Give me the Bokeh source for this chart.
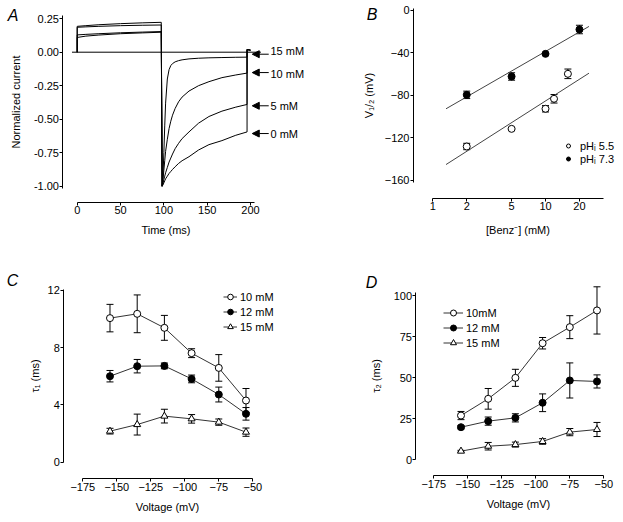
from bokeh.plotting import figure
from bokeh.layouts import gridplot
from bokeh.models import (ColumnDataSource, Whisker, TeeHead, FixedTicker, PrintfTickFormatter,
                          Legend, LegendItem, Label, Arrow, NormalHead)
from bokeh.embed import file_html
from bokeh.resources import INLINE
from bokeh.core.properties import value

FONT = "Liberation Sans"

# ---------------- Panel A data ----------------
a_t_pre = [0, 10, 25, 50, 75, 97]
a_pre_15 = [0.193, 0.198, 0.205, 0.213, 0.219, 0.223]
a_pre_10 = [0.186, 0.189, 0.193, 0.198, 0.201, 0.203]
a_pre_5 = [0.129, 0.133, 0.138, 0.145, 0.150, 0.154]
a_pre_0 = [0.110, 0.120, 0.128, 0.138, 0.144, 0.149]
a_t_tail = [98, 99, 100, 101, 102, 104, 106, 108, 110, 113, 117, 121, 129, 140, 152, 167, 183, 196]
a_tail_15 = [-1.0, -0.92, -0.75, -0.55, -0.38, -0.20, -0.13, -0.10, -0.085, -0.072, -0.063, -0.057,
             -0.050, -0.045, -0.042, -0.040, -0.038, -0.037]
a_tail_10 = [-1.0, -0.95, -0.88, -0.81, -0.74, -0.65, -0.57, -0.515, -0.47, -0.42, -0.37, -0.335,
             -0.29, -0.25, -0.22, -0.19, -0.17, -0.156]
a_tail_5 = [-1.0, -0.98, -0.95, -0.925, -0.90, -0.86, -0.82, -0.79, -0.76, -0.72, -0.68, -0.645,
            -0.595, -0.53, -0.48, -0.44, -0.41, -0.39]
a_tail_0 = [-1.0, -0.99, -0.975, -0.96, -0.945, -0.925, -0.905, -0.89, -0.875, -0.855, -0.83, -0.81,
            -0.78, -0.73, -0.69, -0.66, -0.62, -0.595]
a_t_end = [196, 200]
a_end = [0.02, 0.015]
a_base_t = [-6, 212]
a_base_y = [0.0, 0.0]
a_labels = ["15 mM", "10 mM", "5 mM", "0 mM"]
a_label_t = [223, 223, 223, 223]
a_label_y = [0.012, -0.166, -0.405, -0.614]
a_arrow_t0 = [221, 221, 221, 221]
a_arrow_t1 = [202, 202, 202, 202]
a_arrow_y = [-0.015, -0.152, -0.40, -0.607]
a_yticks = [-1.0, -0.75, -0.5, -0.25, 0.0, 0.25]
a_xticks = [0, 50, 100, 150, 200]

# ---------------- Panel B data ----------------
b_conc_73 = [2, 5, 10, 20]
b_v_73 = [-79.4, -62.1, -40.8, -17.9]
b_err_73 = [3.5, 3.5, 1.0, 4.0]
b_conc_55 = [2, 5, 10, 11.9, 15.8]
b_v_55 = [-128.0, -111.4, -92.5, -83.1, -59.6]
b_err_55 = [3.0, 0.8, 3.0, 4.0, 4.5]
b_fit_x = [1.31, 24.3]
b_fit_73 = [-92.5, -15.0]
b_fit_55 = [-145.0, -59.0]
b_xticks = [1, 2, 5, 10, 20]
b_yticks = [-160, -120, -80, -40, 0]

# ---------------- Panel C data ----------------
cd_volt = [-155, -135, -115, -95, -75, -55]
c_10 = [10.07, 10.37, 9.39, 7.62, 6.59, 4.31]
c_10_err = [0.96, 1.32, 0.87, 0.31, 0.93, 0.84]
c_12 = [6.01, 6.71, 6.73, 5.82, 4.73, 3.38]
c_12_err = [0.40, 0.47, 0.20, 0.27, 0.52, 0.44]
c_15 = [2.17, 2.63, 3.22, 3.03, 2.80, 2.10]
c_15_err = [0.20, 0.73, 0.48, 0.30, 0.22, 0.29]
c_yticks = [0, 4, 8, 12]

# ---------------- Panel D data ----------------
d_10 = [26.8, 37.0, 49.8, 70.9, 80.7, 90.9]
d_10_err = [2.5, 6.3, 5.2, 3.5, 7.0, 14.4]
d_12 = [19.7, 23.4, 25.4, 34.6, 48.2, 47.6]
d_12_err = [1.0, 2.5, 2.5, 5.4, 10.7, 4.0]
d_15 = [5.1, 8.1, 9.1, 11.0, 16.7, 18.3]
d_15_err = [0.5, 2.3, 1.5, 1.7, 2.2, 4.3]
d_yticks = [0, 25, 50, 75, 100]
cd_xticks = [-175, -150, -125, -100, -75, -50]


def make_fig(w, h, xr, yr, **kw):
    p = figure(width=w, height=h, x_range=xr, y_range=yr, output_backend="svg",
               toolbar_location=None, min_border_left=0, min_border_right=0,
               min_border_top=0, min_border_bottom=0, **kw)
    return p


def style(p, xloc, yloc, xstand, ystand):
    p.outline_line_color = None
    p.xgrid.visible = False
    p.ygrid.visible = False
    p.background_fill_color = "white"
    p.border_fill_color = "white"
    p.xaxis.fixed_location = xloc
    p.yaxis.fixed_location = yloc
    for ax in p.axis:
        ax.axis_line_color = "black"
        ax.axis_line_width = 1
        ax.major_tick_line_color = "black"
        ax.major_tick_out = 3
        ax.major_tick_in = 0
        ax.minor_tick_line_color = None
        ax.major_label_text_font = FONT
        ax.major_label_text_font_size = "11px"
        ax.major_label_text_color = "black"
        ax.axis_label_text_font = FONT
        ax.axis_label_text_font_size = "11px"
        ax.axis_label_text_font_style = "normal"
        ax.axis_label_text_color = "black"
        ax.major_label_standoff = 1
    p.xaxis.axis_label_standoff = xstand
    p.yaxis.axis_label_standoff = ystand


def letter(p, txt, x, y):
    p.add_layout(Label(x=x, y=y, x_units="screen", y_units="screen", text=txt,
                       text_font=FONT, text_font_size="16px", text_font_style="italic",
                       text_align="center", text_baseline="middle", text_color="black"))


def whisk(p, xs, ys, errs, color="black"):
    src = ColumnDataSource(dict(x=xs, lo=[y - e for y, e in zip(ys, errs)],
                                hi=[y + e for y, e in zip(ys, errs)]))
    w = Whisker(source=src, base="x", lower="lo", upper="hi", dimension="height",
                line_color=color, line_width=1,
                upper_head=TeeHead(size=7, line_color=color, line_width=1),
                lower_head=TeeHead(size=7, line_color=color, line_width=1),
                level="underlay")
    p.add_layout(w)


def legend(p, items, loc, gw, gh, standoff):
    leg = Legend(items=items, location=loc, glyph_width=gw, glyph_height=gh, label_height=gh,
                 label_standoff=standoff, spacing=0, padding=0, margin=0,
                 label_text_font=FONT, label_text_font_size="11px", label_text_color="black",
                 border_line_color=None, background_fill_alpha=0)
    p.add_layout(leg)


# ---------------- Figure A ----------------
pA = make_fig(310, 250, (-88.5, 269.2), (-1.4799, 0.3858))
pA.line(a_base_t, a_base_y, line_color="black", line_width=1)
for pre, tail in [(a_pre_15, a_tail_15), (a_pre_10, a_tail_10), (a_pre_5, a_tail_5), (a_pre_0, a_tail_0)]:
    xs = [0] + a_t_pre + a_t_tail + a_t_end
    ys = [0.0] + pre + tail + a_end
    pA.line(xs, ys, line_color="black", line_width=1)
pA.text(x=a_label_t, y=a_label_y, text=a_labels, text_font=value(FONT), text_font_size="11px",
        text_baseline="middle", text_align="left", text_color="black")
arrow_src = ColumnDataSource(dict(x0=a_arrow_t0, x1=a_arrow_t1, y=a_arrow_y))
pA.add_layout(Arrow(source=arrow_src, x_start="x0", y_start="y", x_end="x1", y_end="y",
                    line_color="black", line_width=1,
                    end=NormalHead(size=7, fill_color="black", line_color="black")))
pA.xaxis.axis_label = "Time (ms)"
pA.yaxis.axis_label = "Normalized current"
pA.xaxis.ticker = FixedTicker(ticks=a_xticks)
pA.yaxis.ticker = FixedTicker(ticks=a_yticks)
pA.yaxis.formatter = PrintfTickFormatter(format="%.2f")
pA.xaxis.bounds = (0, 205)
pA.yaxis.bounds = (-1.02, 0.274)
style(pA, -1.118, -16.4, 6, 8)
letter(pA, "A", 12.5, 235)

# ---------------- Figure B ----------------
pB = make_fig(312, 250, (0.0822, 48.2), (-225.9, 9.41), x_axis_type="log")
pB.line(b_fit_x, b_fit_73, line_color="#444444", line_width=1)
pB.line(b_fit_x, b_fit_55, line_color="#444444", line_width=1)
whisk(pB, b_conc_73, b_v_73, b_err_73)
whisk(pB, b_conc_55, b_v_55, b_err_55)
rB55 = pB.scatter(b_conc_55, b_v_55, marker="circle", size=7, fill_color="white", line_color="black", line_width=1)
rB73 = pB.scatter(b_conc_73, b_v_73, marker="circle", size=7, fill_color="black", line_color="black", line_width=1)
pB.xaxis.axis_label = "[Benz\u207b] (mM)"
pB.yaxis.axis_label = "V\u2081/\u2082 (mV)"
pB.xaxis.ticker = FixedTicker(ticks=b_xticks)
pB.xaxis.formatter = PrintfTickFormatter(format="%d")
pB.yaxis.ticker = FixedTicker(ticks=b_yticks)
pB.xaxis.bounds = (1, 33)
pB.yaxis.bounds = (-161.5, 1.5)
legend(pB, [LegendItem(label="pH\u1d62 5.5", renderers=[rB55]),
            LegendItem(label="pH\u1d62 7.3", renderers=[rB73])], (253, 85), 10, 13, 7)
style(pB, -176.5, 0.674, 10, 7)
letter(pB, "B", 61.5, 236)

# ---------------- Figure C ----------------
pC = make_fig(310, 271, (-235.51, -7.57), (-4.144, 14.795))
itemsC = []
for ys, errs, mk, fill, lab in [(c_10, c_10_err, "circle", "white", "10 mM"),
                                (c_12, c_12_err, "circle", "black", "12 mM"),
                                (c_15, c_15_err, "triangle", "white", "15 mM")]:
    whisk(pC, cd_volt, ys, errs)
    ln = pC.line(cd_volt, ys, line_color="#333333", line_width=1)
    sc = pC.scatter(cd_volt, ys, marker=mk, size=7, fill_color=fill, line_color="black", line_width=1)
    itemsC.append(LegendItem(label=lab, renderers=[ln, sc]))
legend(pC, itemsC, (223, 187), 14, 15, 3)
pC.xaxis.axis_label = "Voltage (mV)"
pC.yaxis.axis_label = "\u03c4\u2081 (ms)"
pC.xaxis.ticker = FixedTicker(ticks=cd_xticks)
pC.yaxis.ticker = FixedTicker(ticks=c_yticks)
pC.xaxis.bounds = (-175, -50)
pC.yaxis.bounds = (0, 12.05)
style(pC, -1.16, -188.97, 7, 3)
letter(pC, "C", 12, 241)

# ---------------- Figure D ----------------
pD = make_fig(312, 271, (-265.66, -36.25), (-37.8, 127.44))
itemsD = []
for ys, errs, mk, fill, lab in [(d_10, d_10_err, "circle", "white", "10mM"),
                                (d_12, d_12_err, "circle", "black", "12 mM"),
                                (d_15, d_15_err, "triangle", "white", "15 mM")]:
    whisk(pD, cd_volt, ys, errs)
    ln = pD.line(cd_volt, ys, line_color="#333333", line_width=1)
    sc = pD.scatter(cd_volt, ys, marker=mk, size=7, fill_color=fill, line_color="black", line_width=1)
    itemsD.append(LegendItem(label=lab, renderers=[ln, sc]))
legend(pD, itemsD, (133, 171), 20, 15, 3)
pD.xaxis.axis_label = "Voltage (mV)"
pD.yaxis.axis_label = "\u03c4\u2082 (ms)"
pD.xaxis.ticker = FixedTicker(ticks=cd_xticks)
pD.yaxis.ticker = FixedTicker(ticks=d_yticks)
pD.xaxis.bounds = (-175, -50)
pD.yaxis.bounds = (0, 102)
style(pD, -9.76, -188.09, 7, 8)
letter(pD, "D", 61, 239)

grid = gridplot([[pA, pB], [pC, pD]], toolbar_location=None)
open("out.html", "w").write(file_html(grid, INLINE))
